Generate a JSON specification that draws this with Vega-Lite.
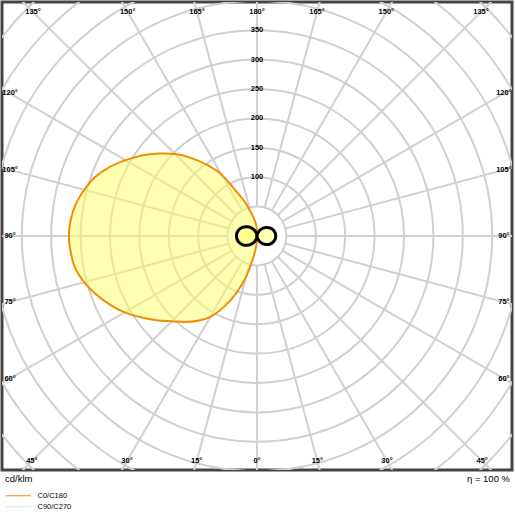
{
  "$schema": "https://vega.github.io/schema/vega-lite/v6.json",
  "width": 510,
  "height": 468,
  "autosize": {"type": "none"},
  "padding": {"left": 2, "top": 2, "right": 3, "bottom": 45},
  "background": "white",
  "config": {"view": {"stroke": "#444444", "strokeWidth": 3}, "font": "Liberation Sans"},
  "datasets": {
    "rings": [{"r": 50}, {"r": 100}, {"r": 150}, {"r": 200}, {"r": 250}, {"r": 300}, {"r": 350}, {"r": 400}, {"r": 450}, {"r": 500}, {"r": 550}, {"r": 600}],
    "spokes": [{"a": 0}, {"a": 15}, {"a": 30}, {"a": 45}, {"a": 60}, {"a": 75}, {"a": 90}, {"a": 105}, {"a": 120}, {"a": 135}, {"a": 150}, {"a": 165}, {"a": 180}, {"a": 195}, {"a": 210}, {"a": 225}, {"a": 240}, {"a": 255}, {"a": 270}, {"a": 285}, {"a": 300}, {"a": 315}, {"a": 330}, {"a": 345}],
    "c0": [
      {"c": "C0/C180", "g": 0, "I": 8}, {"c": "C0/C180", "g": 5, "I": 18}, {"c": "C0/C180", "g": 10, "I": 38}, {"c": "C0/C180", "g": 15, "I": 72},
      {"c": "C0/C180", "g": 20, "I": 104}, {"c": "C0/C180", "g": 25, "I": 133}, {"c": "C0/C180", "g": 30, "I": 159}, {"c": "C0/C180", "g": 35, "I": 176},
      {"c": "C0/C180", "g": 40, "I": 191}, {"c": "C0/C180", "g": 45, "I": 205}, {"c": "C0/C180", "g": 50, "I": 223}, {"c": "C0/C180", "g": 55, "I": 241},
      {"c": "C0/C180", "g": 60, "I": 260}, {"c": "C0/C180", "g": 65, "I": 276}, {"c": "C0/C180", "g": 70, "I": 291}, {"c": "C0/C180", "g": 75, "I": 304},
      {"c": "C0/C180", "g": 80, "I": 314}, {"c": "C0/C180", "g": 85, "I": 318}, {"c": "C0/C180", "g": 90, "I": 320}, {"c": "C0/C180", "g": 95, "I": 318},
      {"c": "C0/C180", "g": 100, "I": 313}, {"c": "C0/C180", "g": 105, "I": 304}, {"c": "C0/C180", "g": 110, "I": 293}, {"c": "C0/C180", "g": 115, "I": 277},
      {"c": "C0/C180", "g": 120, "I": 258}, {"c": "C0/C180", "g": 125, "I": 239}, {"c": "C0/C180", "g": 130, "I": 218}, {"c": "C0/C180", "g": 135, "I": 197},
      {"c": "C0/C180", "g": 140, "I": 173}, {"c": "C0/C180", "g": 145, "I": 147}, {"c": "C0/C180", "g": 150, "I": 121}, {"c": "C0/C180", "g": 155, "I": 84},
      {"c": "C0/C180", "g": 160, "I": 63}, {"c": "C0/C180", "g": 165, "I": 43}, {"c": "C0/C180", "g": 170, "I": 30}, {"c": "C0/C180", "g": 175, "I": 20},
      {"c": "C0/C180", "g": 180, "I": 10}
    ],
    "c90": [
      {"s": -1, "g": 0, "I": 0}, {"s": -1, "g": 15, "I": 6}, {"s": -1, "g": 30, "I": 14.2}, {"s": -1, "g": 45, "I": 22.3}, {"s": -1, "g": 60, "I": 29}, {"s": -1, "g": 75, "I": 33.5},
      {"s": -1, "g": 90, "I": 35}, {"s": -1, "g": 105, "I": 33.5}, {"s": -1, "g": 120, "I": 29}, {"s": -1, "g": 135, "I": 22.3}, {"s": -1, "g": 150, "I": 14.2}, {"s": -1, "g": 165, "I": 6},
      {"s": 1, "g": 0, "I": 0}, {"s": 1, "g": 15, "I": 5.5}, {"s": 1, "g": 30, "I": 13}, {"s": 1, "g": 45, "I": 20.4}, {"s": 1, "g": 60, "I": 26.5}, {"s": 1, "g": 75, "I": 30.6},
      {"s": 1, "g": 90, "I": 32}, {"s": 1, "g": 105, "I": 30.6}, {"s": 1, "g": 120, "I": 26.5}, {"s": 1, "g": 135, "I": 20.4}, {"s": 1, "g": 150, "I": 13}, {"s": 1, "g": 165, "I": 5.5}
    ],
    "ringlabels": [{"r": 100}, {"r": 150}, {"r": 200}, {"r": 250}, {"r": 300}, {"r": 350}],
    "anglelabels": [
      {"a": 0, "s": 1, "t": "0°"},
      {"a": 15, "s": -1, "t": "15°"}, {"a": 30, "s": -1, "t": "30°"}, {"a": 45, "s": -1, "t": "45°"}, {"a": 60, "s": -1, "t": "60°"}, {"a": 75, "s": -1, "t": "75°"},
      {"a": 90, "s": -1, "t": "90°"}, {"a": 105, "s": -1, "t": "105°"}, {"a": 120, "s": -1, "t": "120°"}, {"a": 135, "s": -1, "t": "135°"}, {"a": 150, "s": -1, "t": "150°"}, {"a": 165, "s": -1, "t": "165°"},
      {"a": 180, "s": 1, "t": "180°"},
      {"a": 15, "s": 1, "t": "15°"}, {"a": 30, "s": 1, "t": "30°"}, {"a": 45, "s": 1, "t": "45°"}, {"a": 60, "s": 1, "t": "60°"}, {"a": 75, "s": 1, "t": "75°"},
      {"a": 90, "s": 1, "t": "90°"}, {"a": 105, "s": 1, "t": "105°"}, {"a": 120, "s": 1, "t": "120°"}, {"a": 135, "s": 1, "t": "135°"}, {"a": 150, "s": 1, "t": "150°"}, {"a": 165, "s": 1, "t": "165°"}
    ]
  },
  "layer": [
    {
      "data": {"name": "rings"},
      "mark": {"type": "arc", "theta": 0, "theta2": 6.2832, "filled": false, "stroke": "#d0d0d0", "strokeWidth": 2, "clip": true},
      "encoding": {
        "radius": {"field": "r", "type": "quantitative", "stack": null, "scale": {"type": "linear", "domain": [0, 600], "range": [0, 352.8], "zero": true}}
      }
    },
    {
      "data": {"name": "spokes"},
      "transform": [
        {"calculate": "50*sin(datum.a*PI/180)", "as": "x1"},
        {"calculate": "-50*cos(datum.a*PI/180)", "as": "y1"},
        {"calculate": "1000*sin(datum.a*PI/180)", "as": "x2"},
        {"calculate": "-1000*cos(datum.a*PI/180)", "as": "y2"}
      ],
      "mark": {"type": "rule", "stroke": "#d0d0d0", "strokeWidth": 2, "clip": true},
      "encoding": {
        "x": {"field": "x1", "type": "quantitative", "scale": {"domain": [-433.7, 433.7], "nice": false, "zero": false}, "axis": null},
        "y": {"field": "y1", "type": "quantitative", "scale": {"domain": [-398, 398], "nice": false, "zero": false}, "axis": null},
        "x2": {"field": "x2"},
        "y2": {"field": "y2"}
      }
    },
    {
      "data": {"name": "c0"},
      "transform": [
        {"calculate": "-datum.I*sin(datum.g*PI/180)", "as": "x"},
        {"calculate": "-datum.I*cos(datum.g*PI/180)", "as": "y"}
      ],
      "mark": {"type": "line", "interpolate": "cardinal-closed", "fill": "#ffff66", "fillOpacity": 0.5, "strokeWidth": 2},
      "encoding": {
        "x": {"field": "x", "type": "quantitative", "scale": {"domain": [-433.7, 433.7], "nice": false, "zero": false}, "axis": null},
        "y": {"field": "y", "type": "quantitative", "scale": {"domain": [-398, 398], "nice": false, "zero": false}, "axis": null},
        "order": {"field": "g", "type": "quantitative"},
        "stroke": {
          "field": "c", "type": "nominal",
          "scale": {"domain": ["C0/C180", "C90/C270"], "range": ["#f28c00", "#e3e3e3"]},
          "legend": {"orient": "none", "legendX": 9.25, "legendY": 486.75, "title": null, "symbolType": "M-2,0H2", "symbolSize": 156.25, "symbolStrokeWidth": 1, "labelFontSize": 7.5, "labelFont": "Liberation Sans", "labelColor": "#000000", "labelOffset": 12.25, "rowPadding": 0, "padding": 0}
        }
      }
    },
    {
      "data": {"name": "c90"},
      "transform": [
        {"calculate": "datum.s*datum.I*sin(datum.g*PI/180)", "as": "x"},
        {"calculate": "-datum.I*cos(datum.g*PI/180)", "as": "y"}
      ],
      "mark": {"type": "line", "interpolate": "cardinal-closed", "fill": "#ffff66", "fillOpacity": 0.5, "stroke": "#000000", "strokeWidth": 3},
      "encoding": {
        "x": {"field": "x", "type": "quantitative", "scale": {"domain": [-433.7, 433.7], "nice": false, "zero": false}, "axis": null},
        "y": {"field": "y", "type": "quantitative", "scale": {"domain": [-398, 398], "nice": false, "zero": false}, "axis": null},
        "order": {"field": "g", "type": "quantitative"},
        "detail": {"field": "s", "type": "nominal"}
      }
    },
    {
      "data": {"name": "ringlabels"},
      "mark": {"type": "text", "fontSize": 7.5, "fontWeight": "bold", "baseline": "middle", "align": "center", "fill": "#000000"},
      "encoding": {
        "x": {"datum": 0, "type": "quantitative", "scale": {"domain": [-433.7, 433.7], "nice": false, "zero": false}, "axis": null},
        "y": {"field": "r", "type": "quantitative", "scale": {"domain": [-398, 398], "nice": false, "zero": false}, "axis": null},
        "text": {"field": "r", "type": "nominal"}
      }
    },
    {
      "data": {"name": "anglelabels"},
      "transform": [
        {"calculate": "min(420/max(abs(sin(datum.a*PI/180)),1e-9), (cos(datum.a*PI/180) < 0 ? 381 : 383)/max(abs(cos(datum.a*PI/180)),1e-9))", "as": "tt"},
        {"calculate": "datum.s*sin(datum.a*PI/180)*datum.tt", "as": "x"},
        {"calculate": "-cos(datum.a*PI/180)*datum.tt", "as": "y"}
      ],
      "mark": {"type": "text", "fontSize": 7.5, "fontWeight": "bold", "baseline": "middle", "align": "center", "fill": "#000000"},
      "encoding": {
        "x": {"field": "x", "type": "quantitative", "scale": {"domain": [-433.7, 433.7], "nice": false, "zero": false}, "axis": null},
        "y": {"field": "y", "type": "quantitative", "scale": {"domain": [-398, 398], "nice": false, "zero": false}, "axis": null},
        "text": {"field": "t", "type": "nominal"}
      }
    },
    {
      "data": {"values": [{"txt": "cd/klm"}]},
      "mark": {"type": "text", "fontSize": 9.5, "baseline": "middle", "align": "left", "fill": "#000000"},
      "encoding": {
        "x": {"datum": -428.6, "type": "quantitative", "scale": {"domain": [-433.7, 433.7], "nice": false, "zero": false}, "axis": null},
        "y": {"datum": -413.3, "type": "quantitative", "scale": {"domain": [-398, 398], "nice": false, "zero": false}, "axis": null},
        "text": {"field": "txt", "type": "nominal"}
      }
    },
    {
      "data": {"values": [{"txt": "η = 100 %"}]},
      "mark": {"type": "text", "fontSize": 9.5, "baseline": "middle", "align": "right", "fill": "#000000"},
      "encoding": {
        "x": {"datum": 430.3, "type": "quantitative", "scale": {"domain": [-433.7, 433.7], "nice": false, "zero": false}, "axis": null},
        "y": {"datum": -413.3, "type": "quantitative", "scale": {"domain": [-398, 398], "nice": false, "zero": false}, "axis": null},
        "text": {"field": "txt", "type": "nominal"}
      }
    }
  ]
}
